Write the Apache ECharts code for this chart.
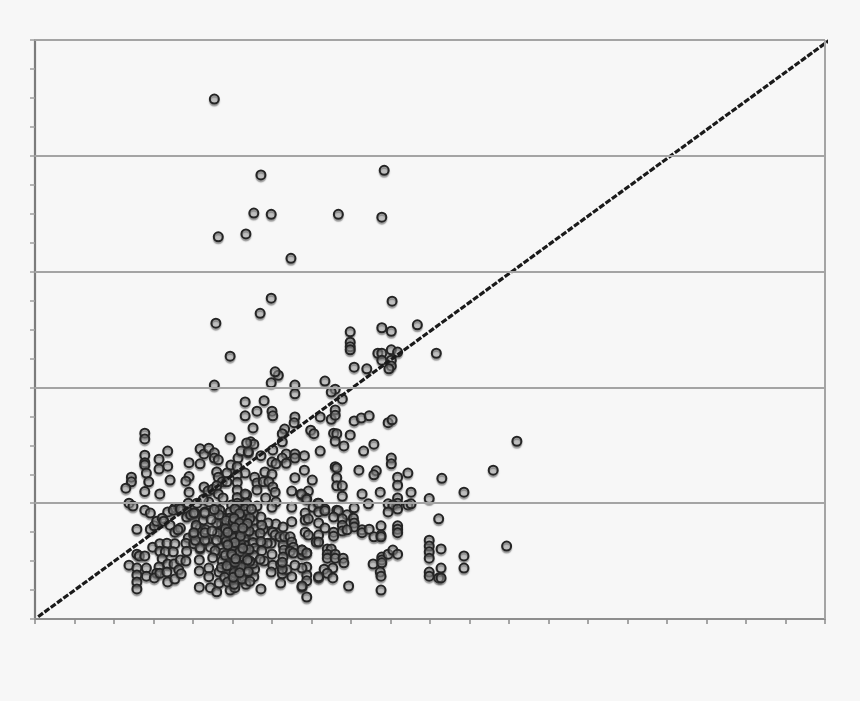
<!DOCTYPE html>
<html><head><meta charset="utf-8">
<style>html,body{margin:0;padding:0;background:#f7f7f7}#c{width:860px;height:701px;filter:blur(0.55px)}</style>
<script src="https://cdn.jsdelivr.net/npm/echarts@6/dist/echarts.min.js"></script>
</head><body><div id="c"></div>
<script>
// Estimated reading of each point; the source axes carry no numeric labels, 0-100 assumed.
const outliers = [[22.7,89.8],[28.6,76.7],[44.2,77.5],[27.7,70.1],[29.9,69.9],[38.4,69.9],[43.9,69.4],[23.2,66.0],[26.7,66.5],[32.4,62.3],[29.9,55.4],[28.5,52.8],[22.9,51.1],[45.2,54.9],[24.7,45.4],[22.7,40.4],
[39.9,49.6],[43.9,50.3],[45.1,49.7],[48.4,50.8],[39.9,47.8],[39.9,47.0],[39.9,46.5],[50.8,45.9],[43.4,45.9],[43.9,45.9],[45.1,46.5],[45.9,46.1],[43.9,44.7],[45.1,44.7],[45.1,43.7],[44.8,43.2],[40.4,43.5],[42.0,43.2]];
const midBand = [[30.8,42.1],[30.4,42.7],[29.9,40.8],[32.9,40.4],[32.9,38.9],[36.7,41.1],[38.0,39.7],[37.5,39.2],[38.9,38.0],[26.6,37.5],[29.0,37.7],[28.1,35.9],[30.0,35.9],[30.1,35.1],[26.6,35.1],[32.9,34.9],[32.8,33.9],[36.1,34.9],[37.5,34.5],[38.0,36.1],[38.0,35.2],[40.4,34.2],[41.3,34.7],[42.3,35.1],[44.7,33.9],[45.2,34.4],[27.6,33.0],[31.6,32.8],[31.3,32.0],[34.9,32.6],[35.3,32.0],[37.8,32.1],[38.2,32.0],[39.9,31.8],[38.0,30.7],[39.1,29.9],[31.3,30.6],[27.3,30.6],[27.7,30.2],[27.0,28.7],[30.1,29.2],[36.1,29.0],[41.6,29.0],[42.9,30.2],[28.6,28.2],[31.8,28.5],[31.3,27.8],[32.9,28.5],[32.9,27.8],[34.1,28.2],[45.1,27.8],[45.1,26.8],[30.0,27.1],[30.5,26.8],[31.8,26.9],[38.0,26.3],[38.2,26.1],[34.1,25.7],[41.0,25.7],[43.2,25.6],[42.9,24.9],[47.2,25.2],[45.9,24.5],[45.9,23.1],[32.9,24.4],[35.1,24.0],[38.2,24.4],[38.2,23.0],[38.9,23.0],[29.1,25.4],[30.0,25.0],[27.8,24.5],[28.1,23.5],[28.9,23.7],[29.6,23.7],[28.1,22.3],[30.1,22.8],[30.4,21.9],[32.5,22.1],[34.6,22.1],[33.8,21.4],[34.3,20.9],[38.9,21.2],[41.4,21.6],[43.7,21.9],[35.8,20.0],[42.2,19.9],[45.9,20.9],[45.9,20.0],[44.7,19.9],[45.3,19.7],[47.2,19.7],[32.5,19.3],[30.5,20.2],[29.2,20.9],[26.8,21.4],[28.1,19.5],[30.0,19.3],[35.2,19.3],[40.4,19.2],[38.2,18.8],[36.7,19.0]];
const rightSide = [[61.0,30.7],[58.0,25.7],[54.3,21.9],[51.5,24.3],[47.6,21.9],[49.9,20.8],[51.1,17.3],[59.7,12.6],[54.3,10.9],[54.3,8.8],[51.4,12.1],[51.4,8.8],[51.1,7.1],[49.9,13.6],[49.9,12.6],[49.9,11.6],[49.9,10.5],[49.9,8.1],[49.9,7.4],[51.4,7.1],[47.6,19.9],[44.7,18.5],[45.9,19.0]];
const lowerRight = [[33.7,21.6],[34.4,20.7],[35.9,20.0],[34.2,18.3],[35.9,18.5],[36.7,18.7],[38.4,18.7],[37.8,17.6],[39.5,18.0],[40.3,17.4],[38.9,17.3],[38.9,16.2],[35.9,16.6],[36.7,15.7],[34.2,17.1],[34.6,17.3],[40.4,16.6],[40.4,15.9],[38.9,15.2],[39.5,15.4],[37.8,15.0],[37.8,14.3],[34.2,15.0],[34.6,14.5],[35.9,14.5],[35.6,13.3],[35.9,13.3],[41.4,15.4],[41.4,14.9],[42.3,15.5],[42.9,14.2],[43.8,16.1],[43.8,14.5],[43.8,14.2],[45.9,16.1],[45.9,15.5],[45.9,14.9],[37.0,12.1],[37.5,12.1],[37.0,11.2],[37.0,10.5],[38.0,11.2],[38.0,10.5],[39.0,10.5],[39.1,9.7],[42.8,9.5],[43.9,10.7],[43.9,10.2],[43.9,9.7],[44.7,11.2],[45.3,11.9],[45.9,11.2],[43.7,8.1],[43.8,7.4],[43.8,5.0],[39.7,5.7],[34.4,3.8],[37.7,8.8],[36.6,8.6],[37.0,7.9],[37.7,7.1],[35.9,7.1],[34.4,9.0],[34.4,7.6],[34.4,6.6],[33.8,5.5],[33.8,8.8],[33.8,11.1],[34.4,11.4],[33.8,11.9]];
const bottomMid = [[28.6,5.2],[31.1,6.2],[33.8,5.7],[35.9,7.3],[27.7,7.3],[27.8,8.6],[29.0,10.0],[30.0,11.2],[30.1,9.3],[29.9,8.1],[31.1,9.5],[31.3,7.8],[31.9,8.5],[32.5,7.3],[31.3,8.6],[32.9,9.3],[31.4,12.8],[30.5,16.4],[29.5,16.6],[28.9,15.5],[30.1,15.0],[30.4,14.5],[31.0,14.2],[31.6,14.2],[32.3,14.2],[32.5,13.3],[32.7,12.4],[29.9,13.1],[28.7,13.1],[29.4,13.1],[31.5,11.9],[32.3,11.7],[33.8,11.9],[34.4,11.4],[31.4,10.7],[31.3,9.8],[32.7,11.4],[32.5,16.8],[31.4,15.9]];
const leftUpper = [[13.9,32.1],[13.9,31.1],[16.8,29.0],[13.9,28.3],[13.9,27.0],[13.9,26.6],[15.7,27.6],[16.8,26.4],[15.7,25.9],[14.1,25.2],[14.4,23.7],[17.1,24.0],[12.2,24.5],[12.2,23.7],[11.5,22.6],[13.9,22.0],[15.8,21.6],[19.5,27.0],[20.9,26.8],[20.9,29.4],[21.4,28.5],[22.0,29.5],[22.7,28.7],[22.7,27.8],[23.2,27.5],[24.7,31.3],[19.5,24.6],[19.1,23.8],[19.5,21.9],[21.4,22.8],[21.9,22.1],[22.5,22.4],[23.0,25.4],[23.2,24.5],[24.3,25.2],[24.8,26.6],[25.7,27.8],[26.1,29.0],[27.0,28.9],[26.8,30.4],[25.6,26.3],[26.6,25.2],[23.7,23.7],[24.3,23.7],[23.0,23.0],[23.2,21.6],[22.0,20.2],[19.4,20.0],[11.9,20.0],[12.4,19.5],[17.7,19.2],[18.2,19.2],[16.8,18.5],[13.9,18.8],[14.6,18.3],[20.5,20.0],[21.3,20.7],[19.4,18.5],[20.1,18.3],[21.5,18.5],[25.6,24.9],[25.6,23.6],[25.6,22.3],[25.6,21.0],[25.6,20.0],[26.6,21.6],[26.8,20.0],[23.8,20.9],[23.0,19.2],[23.4,18.8],[24.9,19.7],[25.9,19.2]];
const lowerLeft = [[12.9,15.5],[14.6,15.5],[15.1,16.1],[15.4,16.9],[16.1,17.4],[16.3,16.9],[17.1,16.2],[17.7,15.0],[18.4,15.7],[18.1,15.4],[17.5,18.8],[18.4,19.0],[19.2,17.6],[19.7,18.0],[20.3,18.3],[20.4,15.9],[20.9,15.7],[21.6,15.4],[19.4,14.0],[20.1,14.5],[19.1,13.1],[19.2,11.7],[20.1,13.0],[20.9,12.1],[21.8,13.6],[22.2,12.4],[14.9,12.4],[15.8,13.0],[16.7,13.1],[17.7,13.0],[15.8,11.7],[16.5,11.6],[17.5,11.6],[12.9,11.2],[13.2,10.9],[13.9,10.9],[16.1,10.4],[11.9,9.3],[12.9,8.8],[14.1,8.8],[12.9,7.6],[14.1,7.4],[12.9,6.4],[12.9,5.2],[15.7,9.0],[16.8,9.5],[17.6,9.5],[18.4,10.2],[19.1,10.0],[15.4,7.9],[15.1,7.1],[15.8,7.9],[16.7,8.1],[16.8,6.4],[17.7,6.9],[18.2,8.5],[18.5,7.8],[20.8,10.2],[20.8,8.3],[20.8,5.5],[22.0,8.8],[22.0,7.3],[22.2,5.4],[23.0,4.7],[23.3,6.2],[23.3,8.1],[24.7,5.0],[25.3,5.4],[20.9,12.3],[20.3,13.6],[21.5,13.6],[21.5,14.9],[21.3,17.1],[21.5,18.3],[20.1,18.3],[20.4,16.2],[20.1,14.9]];
const core = [[25.6,19.5],[25.7,18.7],[25.5,17.9],[25.6,17.1],[25.8,16.2],[25.6,15.4],[25.5,14.5],[25.7,13.6],[25.6,12.8],[25.4,11.9],[25.7,11.0],[25.6,10.2],[25.8,9.3],[25.5,8.5],[25.6,7.6],[25.8,6.8],
[24.7,18.5],[24.6,17.4],[24.8,16.2],[24.7,15.2],[24.5,14.0],[24.8,13.0],[24.7,12.0],[24.6,10.5],[24.8,9.6],[24.7,8.7],[24.5,7.8],[24.8,6.7],
[26.6,19.0],[26.7,18.0],[26.5,17.0],[26.6,16.0],[26.8,14.8],[26.5,13.9],[26.7,12.7],[26.6,11.5],[26.4,10.6],[26.7,9.4],[26.6,8.2],[26.5,7.1],[26.7,6.0],
[23.7,17.5],[23.6,16.4],[23.8,15.1],[23.7,14.0],[23.5,12.3],[23.8,11.4],[23.7,10.0],[23.6,8.9],
[27.7,18.1],[27.6,16.9],[27.8,15.6],[27.7,14.4],[27.6,13.2],[27.8,12.2],[27.7,11.0],[27.6,9.6],
[23.0,16.6],[23.1,14.8],[23.0,13.6],[22.8,11.8],[22.4,15.2],[22.3,17.2],[22.5,10.6],
[28.6,17.6],[28.7,16.2],[28.5,14.8],[28.6,13.4],[28.7,11.8],[28.5,10.3],
[24.2,17.0],[24.1,15.6],[24.2,13.4],[24.1,11.0],[24.3,9.2],[25.1,16.8],[25.1,14.7],[25.2,12.5],[25.0,10.8],[25.2,8.0],[26.1,17.6],[26.1,15.0],[26.0,13.0],[26.2,10.8],[26.1,9.0],[26.2,6.9],[27.2,17.4],[27.1,15.2],[27.1,12.0],[27.2,10.0],[27.0,8.2],[27.2,6.5],[24.0,7.2],[24.4,6.4],[25.2,6.0],[23.3,18.0],[22.7,18.9],[27.4,19.0],
[25.3,19.0],[25.9,18.2],[25.2,17.4],[25.9,16.6],[25.3,15.8],[25.2,14.0],[26.0,14.3],[25.3,13.2],[25.9,11.6],[25.3,9.8],[25.1,7.2],[25.9,8.0],[24.4,15.0],[24.4,12.8],[26.9,16.5],[26.3,12.2],[26.3,15.7],[24.9,11.2],[26.9,10.2],[25.4,10.4]];
const lineX = [0.4,100.6];
const lineY = [0.4,100.0];

const allPoints = [].concat(outliers,midBand,rightSide,lowerRight,bottomMid,leftUpper,lowerLeft,core);
const chart = echarts.init(document.getElementById('c'),null,{renderer:'canvas'});
chart.setOption({
  backgroundColor:'#f7f7f7',
  animation:false,
  grid:{left:35,right:35,top:40,bottom:82,show:false},
  xAxis:{type:'value',min:0,max:100,interval:5,
    axisLine:{show:true,onZero:false,lineStyle:{color:'#8e8e8e',width:2}},
    axisTick:{show:true,length:5,inside:false,lineStyle:{color:'#8a8a8a',width:1.5}},
    axisLabel:{show:false},splitLine:{show:false}},
  yAxis:{type:'value',min:0,max:100,interval:5,
    axisLine:{show:true,onZero:false,lineStyle:{color:'#7c7c7c',width:2.2}},
    axisTick:{show:true,length:5,inside:false,lineStyle:{color:'#a0a0a0',width:1.5}},
    axisLabel:{show:false},splitLine:{show:false}},
  series:[
    {type:'line',name:'grid',silent:true,symbol:'none',data:[],z:1,
     markLine:{silent:true,symbol:'none',label:{show:false},animation:false,
       lineStyle:{color:'#a4a4a4',width:2,type:'solid'},
       data:[{yAxis:20},{yAxis:40},{yAxis:60},{yAxis:80},{yAxis:100},{xAxis:100}]}},
    {type:'scatter',name:'points',data:allPoints,symbol:'circle',symbolSize:9,clip:false,z:3,
     itemStyle:{color:'rgba(170,170,170,0.45)',borderColor:'#242424',borderWidth:2,opacity:1,
       shadowColor:'rgba(70,70,70,0.5)',shadowBlur:1.2,shadowOffsetY:2}},
    {type:'line',name:'diagonal',data:[[lineX[0],lineY[0]],[lineX[1],lineY[1]]],symbol:'none',clip:false,z:4,
     lineStyle:{color:'#1a1a1a',width:3.2,type:[6,1.8]}}
  ]
});
</script></body></html>
